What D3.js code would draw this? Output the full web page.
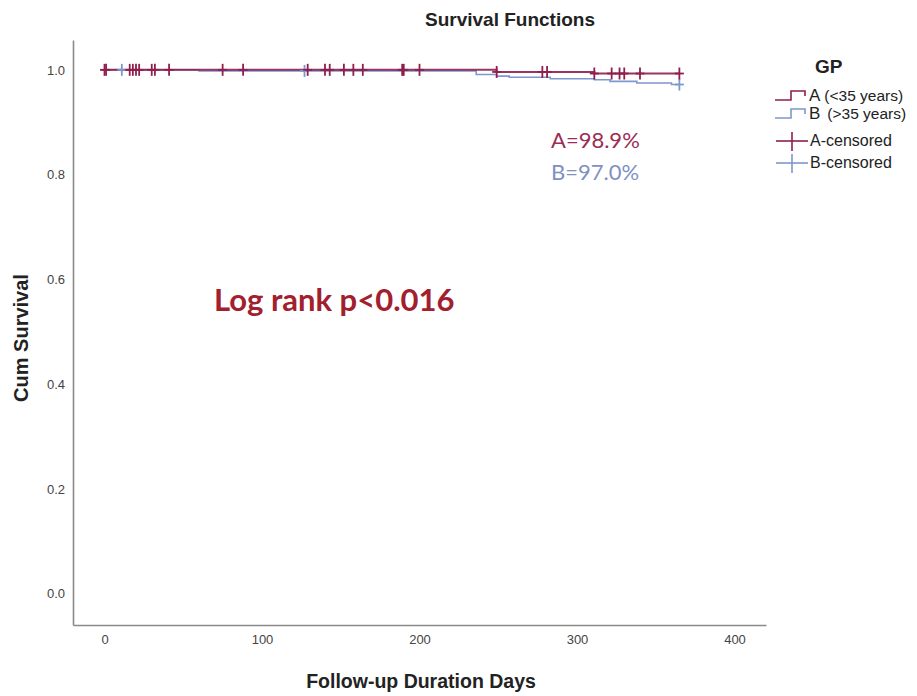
<!DOCTYPE html>
<html>
<head>
<meta charset="utf-8">
<script src="https://cdn.jsdelivr.net/npm/d3@7"></script>
<style>
  html, body { margin: 0; padding: 0; background: #fff; }
  svg { display: block; }
</style>
</head>
<body>
<svg id="chart" width="917" height="696"></svg>
<script>
// ---- data ----
const groups = ["A (<35 years)", "B (>35 years)"];
// Kaplan-Meier step points: day of change and survival after it
const timesA = [0, 249, 311, 365];
const survA  = [1.0, 0.996, 0.993, 0.993];
const timesB = [0, 60, 236, 249, 257, 283, 311, 321, 338, 360, 365];
const survB  = [1.0, 0.998, 0.991, 0.988, 0.986, 0.983, 0.981, 0.978, 0.975, 0.972, 0.972];
// censored observations (days)
const censorA = [0, 1, 16, 18, 20, 22, 30, 32, 41, 75, 88, 129, 140, 143, 152, 158, 164, 189, 190, 200, 249, 278, 281, 311, 322, 327, 330, 340, 365];
const censorB = [11, 127, 365];
const xTicks = [0, 100, 200, 300, 400];
const yTicks = [0.0, 0.2, 0.4, 0.6, 0.8, 1.0];
const finalLabels = ["A=98.9%", "B=97.0%"];
const logRankText = "Log rank p<0.016";

// ---- styles ----
const colA = "#8e1f4d";
const colB = "#7d97cf";
const axisCol = "#8a8a8a";

const svg = d3.select("#chart");
const x = d3.scaleLinear().domain([-20, 420]).range([73, 766]);
const y = d3.scaleLinear().domain([-0.06, 1.057]).range([625, 40]);

// axes
const xAxis = d3.axisBottom(x).tickValues(xTicks).tickSize(0).tickPadding(10).tickFormat(d3.format("d"));
const yAxis = d3.axisLeft(y).tickValues(yTicks).tickSize(0).tickPadding(8).tickFormat(d3.format(".1f"));

const gx = svg.append("g").attr("transform", "translate(0,625)").call(xAxis);
const gy = svg.append("g").attr("transform", "translate(73,0)").call(yAxis);
[gx, gy].forEach(g => {
  g.select(".domain").attr("stroke", axisCol).attr("stroke-width", 1.6);
  g.selectAll("text").attr("font-family", "Liberation Sans, Arial, sans-serif")
    .attr("font-size", 13).attr("fill", "#444");
});

// step curves
function stepData(times, surv) { return times.map((t, i) => ({t, s: surv[i]})); }
function survAt(times, surv, t) {
  let v = surv[0];
  for (let i = 0; i < times.length; i++) if (times[i] <= t) v = surv[i];
  return v;
}
const line = d3.line().x(d => x(d.t)).y(d => y(d.s)).curve(d3.curveStepAfter);

svg.append("path").datum(stepData(timesB, survB)).attr("d", line)
  .attr("fill", "none").attr("stroke", colB).attr("stroke-width", 1.6);
svg.append("path").datum(stepData(timesA, survA)).attr("d", line)
  .attr("fill", "none").attr("stroke", colA).attr("stroke-width", 2).attr("stroke-opacity", 0.9);

// censor marks
function drawCensor(days, times, surv, col) {
  const g = svg.append("g").attr("stroke", col).attr("stroke-width", 1.8);
  days.forEach(d => {
    const cx = x(d), cy = y(survAt(times, surv, d));
    g.append("line").attr("x1", cx).attr("x2", cx).attr("y1", cy - 6).attr("y2", cy + 6);
    g.append("line").attr("x1", cx - 4.5).attr("x2", cx + 4.5).attr("y1", cy).attr("y2", cy);
  });
}
drawCensor(censorB, timesB, survB, colB);
drawCensor(censorA, timesA, survA, colA);

// titles
svg.append("text").attr("x", 510).attr("y", 26).attr("text-anchor", "middle")
  .attr("font-family", "Liberation Sans, Arial, sans-serif").attr("font-weight", "bold")
  .attr("font-size", 19).attr("fill", "#222").text("Survival Functions");
svg.append("text").attr("x", 421).attr("y", 688).attr("text-anchor", "middle")
  .attr("font-family", "Liberation Sans, Arial, sans-serif").attr("font-weight", "bold")
  .attr("font-size", 19.5).attr("fill", "#222").text("Follow-up Duration Days");
svg.append("text").attr("transform", "translate(28,338) rotate(-90)").attr("text-anchor", "middle")
  .attr("font-family", "Liberation Sans, Arial, sans-serif").attr("font-weight", "bold")
  .attr("font-size", 20).attr("fill", "#222").text("Cum Survival");

// annotations
svg.append("text").attr("x", 551).attr("y", 148)
  .attr("font-family", "Lato, Open Sans, sans-serif").attr("font-size", 22)
  .attr("fill", "#9b2c55").text(finalLabels[0]);
svg.append("text").attr("x", 551).attr("y", 180)
  .attr("font-family", "Lato, Open Sans, sans-serif").attr("font-size", 22)
  .attr("fill", "#8190c4").text(finalLabels[1]);
svg.append("text").attr("x", 214).attr("y", 311)
  .attr("font-family", "Lato, Open Sans, sans-serif").attr("font-weight", "bold")
  .attr("font-size", 31).attr("fill", "#a2202e").text(logRankText);

// legend
const lg = svg.append("g").attr("font-family", "Liberation Sans, Arial, sans-serif").attr("fill", "#222");
lg.append("text").attr("x", 815).attr("y", 73).attr("font-weight", "bold").attr("font-size", 19).text("GP");
const stepRows = [{y: 100, col: colA, lab: groups[0]}, {y: 118, col: colB, lab: groups[1]}];
stepRows.forEach(r => {
  lg.append("path").attr("d", `M775,${r.y} H791 V${r.y - 9} H805 V${r.y - 4}`)
    .attr("fill", "none").attr("stroke", r.col).attr("stroke-width", 1.6);
  const parts = r.lab.split(" ");
  const t = lg.append("text").attr("x", 809).attr("y", r.y + 1).attr("font-size", 17);
  t.append("tspan").text(parts[0]);
  t.append("tspan").attr("dx", parts[0] === "B" ? 7 : 4).attr("font-size", 15.5).text(parts.slice(1).join(" "));
});
const censRows = [{y: 141, col: colA, lab: "A-censored"}, {y: 163, col: colB, lab: "B-censored"}];
censRows.forEach(r => {
  lg.append("line").attr("x1", 776).attr("x2", 808).attr("y1", r.y).attr("y2", r.y).attr("stroke", r.col).attr("stroke-width", 1.6);
  lg.append("line").attr("x1", 792).attr("x2", 792).attr("y1", r.y - 9).attr("y2", r.y + 10).attr("stroke", r.col).attr("stroke-width", 1.6);
  lg.append("text").attr("x", 810).attr("y", r.y + 5).attr("font-size", 16).text(r.lab);
});
</script>
</body>
</html>
